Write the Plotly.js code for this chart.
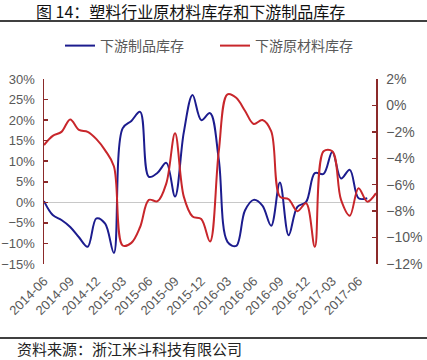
<!DOCTYPE html>
<html>
<head>
<meta charset="utf-8">
<script src="https://cdn.plot.ly/plotly-3.0.1.min.js"></script>
<style>
html,body{margin:0;padding:0;background:#fff;}
#chart{width:427px;height:360px;}
</style>
</head>
<body>
<div id="chart"></div>
<script>
// Monthly categories 2014-06 .. 2017-08
const months = ["2014-06","2014-07","2014-08","2014-09","2014-10","2014-11","2014-12",
  "2015-01","2015-02","2015-03","2015-04","2015-05","2015-06","2015-07","2015-08","2015-09","2015-10","2015-11","2015-12",
  "2016-01","2016-02","2016-03","2016-04","2016-05","2016-06","2016-07","2016-08","2016-09","2016-10","2016-11","2016-12",
  "2017-01","2017-02","2017-03","2017-04","2017-05","2017-06","2017-07","2017-08"];

// 下游制品库存 (left axis, %)
const productInventory = [0.3, -3.1, -4.3, -6.0, -8.5, -10.8, -3.9, -5.2, -12.3, 18.0, 19.8, 22.0, 6.2, 7.2, 9.6, 1.4,
  17.0, 26.1, 20.0, 21.7, 10.5, -9.6, -10.6, -2.0, 0.6, -0.8, -5.7, 4.8, -8.0, -1.1, 0.1, 7.1, 6.9, 12.3, 5.8, 7.9, 1.0, 1.0];

// 下游原材料库存 (right axis, %)
const rawInventory = [-3.0, -2.3, -2.0, -1.06, -1.85, -2.0, -2.55, -3.4, -4.6, -10.6, -10.4, -9.2, -7.15, -7.25, -5.9, -2.1,
  -6.9, -8.4, -8.6, -10.3, -3.5, 0.84, 0.58, -0.4, -1.4, -1.1, -1.95, -6.9, -7.1, -8.0, -7.4, -10.7, -3.47, -3.47,
  -7.15, -8.34, -6.26, -7.28, -6.64];

const tickLabels = ["2014-06","2014-09","2014-12","2015-03","2015-06","2015-09","2015-12",
  "2016-03","2016-06","2016-09","2016-12","2017-03","2017-06"];

const seriesNames = ["下游制品库存", "下游原材料库存"];
const chartTitle = "图 14：塑料行业原材料库存和下游制品库存";
const sourceText = "资料来源：浙江米斗科技有限公司";

const W = 427, H = 360;
const M = {l: 44, r: 51, t: 79, b: 96};
const pw = W - M.l - M.r, ph = H - M.t - M.b;
const px = x => (x - M.l) / pw;
const py = y => (H - M.b - y) / ph;

const cjk = '"Noto Sans CJK SC", "Noto Sans", sans-serif';
const latin = '"Liberation Sans", Arial, sans-serif';
const grey = '#595959';
const axisCol = '#8B2A2A';

const traces = [
  {
    x: months.slice(0, productInventory.length), y: productInventory,
    name: seriesNames[0], type: 'scatter', mode: 'lines',
    line: {color: '#1C1C8E', width: 2, shape: 'spline', smoothing: 1},
    yaxis: 'y'
  },
  {
    x: months.slice(0, rawInventory.length), y: rawInventory,
    name: seriesNames[1], type: 'scatter', mode: 'lines',
    line: {color: '#C8262B', width: 2, shape: 'spline', smoothing: 1},
    yaxis: 'y2'
  }
];

const layout = {
  width: W, height: H,
  margin: M,
  paper_bgcolor: '#fff', plot_bgcolor: '#fff',
  showlegend: true,
  legend: {
    orientation: 'h', x: px(60), xanchor: 'left', y: py(46), yanchor: 'middle',
    font: {family: cjk, size: 14, color: grey},
    entrywidth: 110, entrywidthmode: 'pixels', bgcolor: 'rgba(0,0,0,0)'
  },
  xaxis: {
    type: 'category', range: [0, months.length - 1],
    tickmode: 'array', tickvals: tickLabels, ticktext: tickLabels,
    tickangle: -45, ticks: '', showgrid: false, showline: false, zeroline: false,
    ticklabelstandoff: 6,
    tickfont: {family: latin, size: 13, color: grey}
  },
  yaxis: {
    range: [-15, 30], dtick: 5, ticksuffix: '%',
    showgrid: false, zeroline: true, zerolinecolor: '#c8c8c8', zerolinewidth: 1,
    showline: true, linecolor: axisCol, linewidth: 1.5,
    ticks: 'inside', ticklen: 4, tickcolor: axisCol, tickwidth: 1.5,
    ticklabelstandoff: 5,
    tickfont: {family: latin, size: 13, color: grey}
  },
  yaxis2: {
    range: [-12, 2], dtick: 2, ticksuffix: '%', overlaying: 'y', side: 'right',
    showgrid: false, zeroline: false,
    showline: true, linecolor: axisCol, linewidth: 1.5,
    ticks: 'inside', ticklen: 4, tickcolor: axisCol, tickwidth: 1.5,
    ticklabelstandoff: 6,
    tickfont: {family: latin, size: 14, color: grey}
  },
  shapes: [
    {type: 'line', xref: 'paper', yref: 'paper', x0: px(0), x1: px(W), y0: py(21), y1: py(21),
     line: {color: '#000', width: 1.5}},
    {type: 'line', xref: 'paper', yref: 'paper', x0: px(0), x1: px(W), y0: py(338), y1: py(338),
     line: {color: '#000', width: 1.5}}
  ],
  annotations: [
    {text: chartTitle, xref: 'paper', yref: 'paper', x: px(34), y: py(11), xanchor: 'left', yanchor: 'middle',
     showarrow: false, font: {family: cjk, size: 16, color: '#111'}},
    {text: sourceText, xref: 'paper', yref: 'paper', x: px(15), y: py(348), xanchor: 'left', yanchor: 'middle',
     showarrow: false, font: {family: cjk, size: 15, color: '#222'}}
  ]
};

Plotly.newPlot('chart', traces, layout, {displayModeBar: false, staticPlot: true});
</script>
</body>
</html>
